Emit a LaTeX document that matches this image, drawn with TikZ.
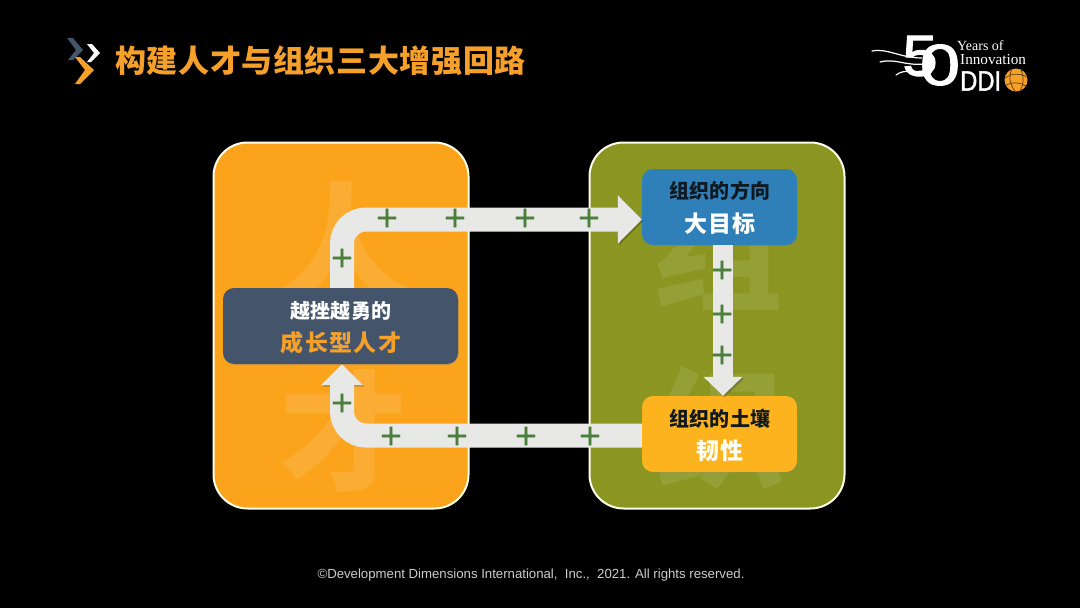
\documentclass[tikz,border=0pt]{standalone}
\usepackage{fontspec}
\usetikzlibrary{arrows.meta,shadows,calc}
\setmainfont{Liberation Sans}
\newfontfamily\serifl{Liberation Serif}
\newfontfamily\cjk{Noto Sans CJK SC}
\newfontfamily\cjks[LetterSpace=6]{Noto Sans CJK SC}
\newfontfamily\cjkt[LetterSpace=2]{Noto Sans CJK SC}
\newfontfamily\plusf[FakeBold=1.2]{DejaVu Sans}
\newfontfamily\digitf[FakeBold=1.5]{Liberation Sans}
\definecolor{panelO}{HTML}{FBA41B}
\definecolor{panelG}{HTML}{8A9621}
\definecolor{wmO}{HTML}{FBAC33}
\definecolor{wmG}{HTML}{949F35}
\definecolor{boxD}{HTML}{44546A}
\definecolor{boxB}{HTML}{2F80B8}
\definecolor{boxY}{HTML}{FDB31D}
\definecolor{flowc}{HTML}{E8E8E6}
\definecolor{plusc}{HTML}{4C7F3C}
\definecolor{titleO}{HTML}{F5A02A}
\definecolor{ink}{HTML}{101820}
\tikzset{
  panel/.style={draw=white!92!yellow,line width=2pt,rounded corners=34pt,minimum width=255pt,minimum height=366pt,inner sep=0pt},
  card/.style={rounded corners=11pt,inner sep=0pt,align=center,drop shadow={opacity=.3,shadow xshift=1pt,shadow yshift=-1pt}},
  flow/.style={draw=flowc,line width=24pt,-{Triangle[length=24pt,width=47pt]},rounded corners=24pt,
    preaction={draw=black,draw opacity=.22,transform canvas={shift={(1.5pt,-1.5pt)}}}},
  flowback/.style={flow,-{Triangle[length=21pt,width=41pt]}},
  flowthin/.style={flow,line width=20pt,-{Triangle[length=19pt,width=38pt]}},
  plusn/.style={text=plusc,font=\plusf\fontsize{29}{29}\selectfont,inner sep=0pt},
  wm/.style={font=\cjk\bfseries\fontsize{130}{130}\selectfont,inner sep=0pt},
  lineA/.style={font=\cjkt\bfseries\fontsize{20}{20}\selectfont,inner sep=0pt},
  lineB/.style={font=\cjks\bfseries\fontsize{23}{23}\selectfont,inner sep=0pt},
  swoosh/.style={draw=white,line width=1.2pt,line cap=round},
  digit/.style={text=white,font=\digitf\fontsize{58}{58}\selectfont,inner sep=0pt},
}
\begin{document}
\begin{tikzpicture}[x=1pt,y=-1pt]
\useasboundingbox (0,0) rectangle (1080,608);
\fill[black] (0,0) rectangle (1080,608);
% header mark
\fill[boxD] (67,38) -- (73,38) -- (83,50) -- (73,60) -- (68,60) -- (76,50) -- cycle;
\fill[white] (87,44) -- (92,44) -- (100,53) -- (91,62) -- (87,62) -- (94,53) -- cycle;
\fill[titleO] (75,57) -- (80,57) -- (94,70) -- (80,84) -- (75,84) -- (85,70) -- cycle;
\node[anchor=west,text=titleO,font=\cjkt\bfseries\fontsize{31}{31}\selectfont,inner sep=0pt] (title) at (115,61) {构建人才与组织三大增强回路};
% logo
\path[swoosh] (872,51) .. controls (888,48) and (900,58) .. (922,58);
\path[swoosh] (880,62) .. controls (895,58) and (905,66) .. (924,64);
\path[swoosh] (896,75) .. controls (905,68) and (915,74) .. (926,70);
\node[digit,xscale=1.1] (five) at (920,56) {5};
\node[digit,xscale=1.25] (zero) at (940,65) {0};
\node[anchor=west,text=white,font=\serifl\fontsize{14}{14}\selectfont,inner sep=0pt] (years) at (957,46) {Years of};
\node[anchor=west,text=white,font=\serifl\fontsize{15.2}{15}\selectfont,inner sep=0pt] (innov) at (960,60) {Innovation};
\node[anchor=west,text=white,font=\digitf\fontsize{28}{28}\selectfont,inner sep=0pt,xscale=.85] (ddi) at (960,81) {DDI};
\fill[titleO] (1016,80) circle (11.5);
\draw[black!60!titleO,line width=.7pt] (1005,78) .. controls (1012,73) and (1020,73) .. (1027,77)
  (1006,85) .. controls (1012,82) and (1020,82) .. (1026,86)
  (1012,69) .. controls (1008,76) and (1010,85) .. (1015,91)
  (1021,70) .. controls (1024,76) and (1024,85) .. (1020,91);
% panels
\node[panel,fill=panelO] (talentP) at (341,325.5) {};
\node[panel,fill=panelG] (orgP) at (717,325.5) {};
% watermarks
\node[wm,text=wmO] (wmA) at (343,243) {人};
\node[wm,text=wmO] (wmB) at (343,431) {才};
\node[wm,text=wmG] (wmC) at (717,250) {组};
\node[wm,text=wmG] (wmD) at (720,428) {织};
% cards
\node[card,fill=boxD,minimum width=235pt,minimum height=76pt] (talent) at (340.5,326) {};
\node[card,fill=boxB,minimum width=155pt,minimum height=76pt] (goal) at (719.5,207) {};
\node[card,fill=boxY,minimum width=155pt,minimum height=76pt] (soil) at (719.5,434) {};
% flows
\draw[flow] ([xshift=1.5pt]talent.north) |- ([yshift=-12.5pt]goal.west);
\draw[flowback] ([yshift=-1.5pt]soil.west) -| ([xshift=1.5pt]talent.south);
\draw[flowthin] ([xshift=3.5pt]goal.south) -- ([xshift=3.5pt]soil.north);
% card text
\node[lineA,text=white] (t1) at (341,311) {越挫越勇的};
\node[lineB,text=titleO] (t2) at (341,343) {成长型人才};
\node[lineA,text=ink] (g1) at (720,191) {组织的方向};
\node[lineB,text=white] (g2) at (720,224) {大目标};
\node[lineA,text=ink] (s1) at (720,419) {组织的土壤};
\node[lineB,text=white!95!yellow] (s2) at (720,451) {韧性};
% plus signs
\foreach \n/\x/\y in {a/387/218,b/455/218,c/525/218,d/589/218,e/342/258,f/342/403,g/391/436,h/457/436,i/526/436,j/590/436,k/722/270,l/722/314,m/722/355}
  \node[plusn] (plus\n) at (\x,\y) {+};
% footer
\node[text=black!20,font=\fontsize{13.2}{14}\selectfont,inner sep=0pt] (foot) at (531,575) {©Development Dimensions International, \ Inc., \ 2021. All rights reserved.};
\end{tikzpicture}
\end{document}
